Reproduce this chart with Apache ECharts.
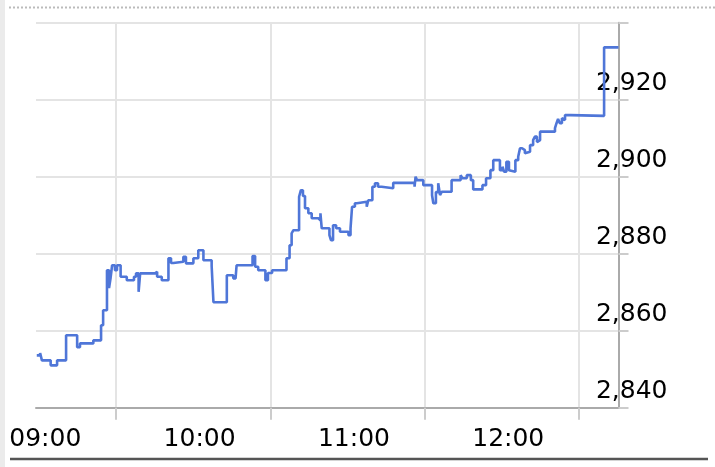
<!DOCTYPE html>
<html>
<head>
<meta charset="utf-8">
<script src="https://cdn.jsdelivr.net/npm/echarts@6/dist/echarts.min.js"></script>
<style>
html,body{margin:0;padding:0;background:#fff;}
#chart{width:715px;height:467px;}
</style>
</head>
<body>
<div id="chart"></div>
<script>
// minutes since 09:00
var times = [-0.8,0.5,1.2,4.6,7.1,10.6,14.9,16.0,21.2,24.2,25.0,26.5,27.3,27.9,28.5,29.6,30.4,31.8,34.2,37.0,37.8,38.8,39.4,45.2,46.0,47.8,50.4,51.4,52.3,56.2,57.2,60.1,62.0,64.0,67.2,67.9,73.1,75.6,76.5,76.9,83.1,84.1,85.3,88.1,89.1,90.7,96.3,97.5,98.3,99.0,101.2,101.9,102.7,103.5,104.8,106.1,108.7,109.5,110.0,113.0,113.6,114.4,115.6,117.1,120.4,121.2,121.8,122.9,123.7,127.5,128.1,129.7,130.7,131.9,133.3,137.8,146.1,146.5,147.1,149.5,152.9,153.4,154.4,155.3,156.0,156.7,160.5,164.0,164.7,166.4,168.0,168.9,172.5,173.9,175.6,176.7,179.3,180.3,180.9,181.8,182.8,183.4,185.3,186.4,187.1,187.9,189.0,189.6,191.0,192.2,192.9,193.7,194.2,194.9,200.7,201.3,201.9,202.6,203.4,203.9,204.6,206.8,207.3,219.8,225.4];
var prices = [2853.6,2854.2,2852.3,2851.0,2852.3,2858.8,2855.7,2856.7,2857.5,2861.4,2865.3,2875.7,2871.1,2873.7,2877.0,2875.7,2877.0,2874.0,2873.1,2874.0,2874.9,2870.1,2874.9,2875.3,2874.0,2873.1,2878.8,2877.6,2877.9,2879.2,2877.5,2878.8,2880.9,2878.3,2876.8,2867.4,2874.4,2873.6,2873.1,2877.0,2879.4,2876.6,2875.7,2873.1,2875.0,2875.7,2878.8,2882.2,2885.3,2886.1,2894.8,2896.5,2895.0,2891.8,2890.5,2889.2,2888.7,2890.5,2886.6,2884.8,2883.5,2887.4,2886.6,2885.7,2884.8,2886.6,2892.2,2893.1,2893.5,2892.2,2893.9,2897.4,2898.3,2897.4,2897.0,2898.4,2897.4,2900.0,2899.1,2897.8,2895.2,2893.1,2896.0,2898.3,2895.2,2896.1,2899.1,2900.4,2899.6,2900.4,2899.1,2896.7,2897.8,2899.6,2901.7,2904.3,2901.7,2902.6,2901.3,2903.9,2901.7,2901.3,2904.3,2905.2,2907.4,2906.9,2906.1,2906.5,2908.2,2909.5,2910.4,2909.0,2909.5,2911.7,2912.6,2913.9,2915.0,2913.9,2915.2,2914.7,2916.0,2916.5,2915.8,2933.6,2933.6];
var xLabelValues = [0, 60, 120, 180];
var xLabels = ['09:00', '10:00', '11:00', '12:00'];
var xGridValues = [30, 90, 150, 210];
var yTicks = [2840, 2860, 2880, 2900, 2920, 2940];
var yTickLabels = ['2,840', '2,860', '2,880', '2,900', '2,920', '2,940'];

var seriesData = times.map(function (t, i) { return [t, prices[i]]; });

var chart = echarts.init(document.getElementById('chart'), null, {renderer: 'canvas'});
var font = '"DejaVu Sans", Verdana, sans-serif';
chart.setOption({
  animation: false,
  backgroundColor: '#fff',
  grid: {left: 36, right: 96.5, top: 22.7, bottom: 59.3, containLabel: false, outerBoundsMode: 'none'},
  xAxis: {
    type: 'value',
    min: -1.1,
    max: 225.4,
    axisLine: {show: true, onZero: false, lineStyle: {color: '#aaaaaa', width: 2}},
    axisTick: {show: true, customValues: xGridValues, length: 12, lineStyle: {color: '#cccccc', width: 2}},
    splitLine: {show: true, lineStyle: {color: '#e4e4e4', width: 2}},
    axisLabel: {
      show: true,
      customValues: xLabelValues,
      formatter: function (v) { var i = xLabelValues.indexOf(v); return i >= 0 ? xLabels[i] : ''; },
      color: '#000',
      fontFamily: font,
      fontSize: 25,
      margin: 19.5,
      padding: [0, 0, 0, 13]
    }
  },
  yAxis: {
    type: 'value',
    position: 'right',
    min: 2840,
    max: 2940,
    interval: 20,
    axisLine: {show: true, onZero: false, lineStyle: {color: '#aaaaaa', width: 2}},
    axisTick: {show: true, length: 10, lineStyle: {color: '#cccccc', width: 2}},
    splitLine: {show: true, lineStyle: {color: '#e4e4e4', width: 2}},
    axisLabel: {
      show: true,
      formatter: function (v) { var i = yTicks.indexOf(v); return i >= 0 && v < 2940 ? yTickLabels[i] : ''; },
      color: '#000',
      fontFamily: font,
      fontSize: 25,
      align: 'right',
      verticalAlign: 'bottom',
      margin: 49,
      padding: [0, 0, 4, 0]
    }
  },
  graphic: [
    {type: 'rect', shape: {x: 0, y: 0, width: 5, height: 467}, style: {fill: '#ebebeb'}, silent: true},
    {type: 'line', shape: {x1: 9, y1: 7.5, x2: 715, y2: 7.5}, style: {stroke: '#bbbbbb', lineWidth: 2, lineDash: [2, 2]}, silent: true},
    {type: 'line', shape: {x1: 10, y1: 459, x2: 708, y2: 459}, style: {stroke: '#555555', lineWidth: 2.3}, silent: true}
  ],
  series: [{
    type: 'line',
    step: 'end',
    data: seriesData,
    showSymbol: false,
    symbol: 'none',
    lineStyle: {color: '#4f76d8', width: 2.6},
    z: 5
  }]
});
</script>
</body>
</html>
